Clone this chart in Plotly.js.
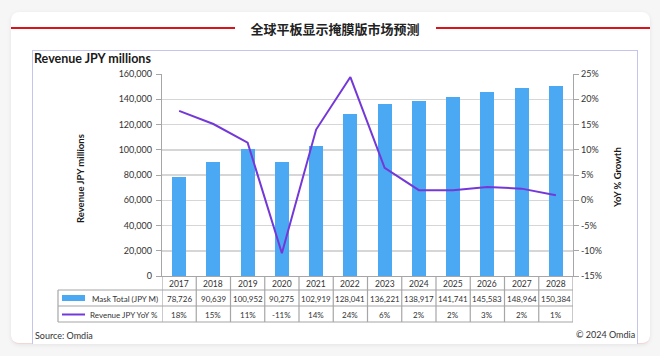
<!DOCTYPE html>
<html>
<head>
<meta charset="utf-8">
<script src="https://cdn.plot.ly/plotly-3.0.1.min.js"></script>
<style>
  html, body { margin:0; padding:0; width:660px; height:356px; overflow:hidden; background:#f6f6f6; font-family: Lato, "Noto Sans", sans-serif; }
  #card { position:absolute; left:11px; top:12px; width:639px; height:331px; background:#fff; border-radius:8px; box-shadow:0 1px 4px rgba(0,0,0,0.08); border-bottom:1px solid #f3d6d6; }
  .redline { position:absolute; top:27px; height:2px; background:#d9141b; }
  #title { position:absolute; left:202px; width:266px; top:20px; text-align:center; font-family:"Noto Sans CJK SC", sans-serif; font-weight:bold; font-size:13px; color:#222; line-height:18px; }
  #frame { position:absolute; left:32px; top:50px; width:604px; height:293px; border:1px solid #c4c4ec; border-bottom:none; background:#fff; }
  #chart { position:absolute; left:0; top:0; width:660px; height:356px; }
</style>
</head>
<body>
<div id="card"></div>
<div class="redline" style="left:11px; width:224px;"></div>
<div class="redline" style="left:436px; width:214px;"></div>
<div id="title">全球平板显示掩膜版市场预测</div>
<div id="frame"></div>
<div id="chart"></div>
<script>
// ---- data ----
var years = ['2017','2018','2019','2020','2021','2022','2023','2024','2025','2026','2027','2028'];
var maskTotal = [78726, 90639, 100952, 90275, 102919, 128041, 136221, 138917, 141741, 145583, 148964, 150384];
var yoyGrowth = [17.7, 15.1, 11.4, -10.5, 14.0, 24.4, 6.4, 2.0, 2.0, 2.6, 2.3, 1.0];
var yoyLabels = ['18%','15%','11%','-11%','14%','24%','6%','2%','2%','3%','2%','1%'];
var leftTicks = [0, 20000, 40000, 60000, 80000, 100000, 120000, 140000, 160000];
var rightTickVals = [-15, -10, -5, 0, 5, 10, 15, 20, 25];
var rightTickText = ['-15%','-10%','-5%','0%','5%','10%','15%','20%','25%'];
var seriesNames = ['Mask Total (JPY M)', 'Revenue JPY YoY %'];

// ---- layout helpers (pixel -> paper) ----
var W = 660, H = 356, L = 162, R = 87, T = 74, B = 80;
var pw = W - L - R, ph = H - T - B;
function px(x) { return (x - L) / pw; }
function py(y) { return (H - B - y) / ph; }

var idx = years.map(function(_, i) { return i; });
var FONT = 'Lato, "Open Sans", sans-serif';
var txt = '#333';
var gridCol = '#d6d6d6';
var tableCol = '#a6a6a6';

var traces = [
  { type:'bar', x: idx, y: maskTotal, name: seriesNames[0], marker:{color:'#4aa9f2'}, width:0.41, yaxis:'y', hoverinfo:'y' },
  { type:'scatter', mode:'lines', x: idx, y: yoyGrowth, name: seriesNames[1], line:{color:'#7538d8', width:2}, yaxis:'y2' }
];

var ann = [];
var shapes = [];
function note(text, x, y, opts) {
  var a = Object.assign({ text:text, x:x, y:y, xref:'paper', yref:'paper', showarrow:false,
    font:{family:FONT, size:8, color:txt}, xanchor:'center', yanchor:'middle' }, opts || {});
  ann.push(a);
}
// header, source, copyright
note('<b>Revenue JPY millions</b>', px(32), py(59), {xanchor:'left', font:{family:FONT, size:12.5, color:'#1a1a1a'}});
note('Source: Omdia', px(33), py(335), {xanchor:'left', font:{family:FONT, size:9, color:'#333'}});
note('© 2024 Omdia', px(637), py(334), {xanchor:'right', font:{family:FONT, size:9, color:'#333'}});
// axis titles
note('<b>Revenue JPY millions</b>', px(80), py(179), {textangle:-90, font:{family:FONT, size:9.5, color:'#1a1a1a'}});
note('<b>YoY % Growth</b>', px(617), py(178), {textangle:-90, font:{family:FONT, size:9.5, color:'#1a1a1a'}});

// table rows
years.forEach(function(yr, i) {
  note(yr, i, py(283.5), {xref:'x', font:{family:FONT, size:8.5, color:txt}});
  note(maskTotal[i].toLocaleString('en-US'), i, py(298.5), {xref:'x'});
  note(yoyLabels[i], i, py(314.5), {xref:'x'});
});
note(seriesNames[0], px(160), py(298.5), {xanchor:'right'});
note(seriesNames[1], px(160), py(314.5), {xanchor:'right'});

// legend keys
shapes.push({type:'rect', xref:'paper', yref:'paper', x0:px(62), x1:px(85), y0:py(301), y1:py(295), fillcolor:'#4aa9f2', line:{width:0}});
shapes.push({type:'line', xref:'paper', yref:'paper', x0:px(62), x1:px(85), y0:py(314.5), y1:py(314.5), line:{color:'#7538d8', width:2}});

// table grid
[290, 306, 322].forEach(function(yy) {
  shapes.push({type:'line', xref:'paper', yref:'paper', x0:px(58), x1:1, y0:py(yy), y1:py(yy), line:{color:tableCol, width:1.2}});
});
shapes.push({type:'line', xref:'paper', yref:'paper', x0:px(58), x1:px(58), y0:py(290), y1:py(322), line:{color:tableCol, width:1.2}});
for (var k = 0; k <= years.length; k++) {
  shapes.push({type:'line', xref:'x', yref:'paper', x0:k - 0.5, x1:k - 0.5, y0:py(276), y1:py(322), line:{color:tableCol, width:1.2}});
}

var layout = {
  width: W, height: H,
  margin: {l:L, r:R, t:T, b:B, pad:0},
  paper_bgcolor: 'rgba(0,0,0,0)', plot_bgcolor: 'rgba(0,0,0,0)',
  showlegend: false,
  bargap: 0,
  xaxis: { range:[-0.5, years.length - 0.5], showticklabels:false, ticks:'', showgrid:false, zeroline:false,
           showline:true, linecolor:tableCol, linewidth:1.2, fixedrange:true },
  yaxis: { range:[0, 160000], tickvals: leftTicks, tickformat:',d', ticks:'outside', ticklen:5, tickcolor:'#a6a6a6',
           showline:true, linecolor:'#a6a6a6', linewidth:1.2, showgrid:true, gridcolor:gridCol, gridwidth:1.5,
           zeroline:false, tickfont:{family:FONT, size:9, color:txt}, ticklabelstandoff:2 },
  yaxis2: { range:[-15, 25], overlaying:'y', side:'right', tickvals: rightTickVals, ticktext: rightTickText,
            ticks:'outside', ticklen:5, tickcolor:'#a6a6a6', showline:true, linecolor:'#a6a6a6', linewidth:1.2,
            showgrid:false, zeroline:false, tickfont:{family:FONT, size:9, color:txt} },
  annotations: ann,
  shapes: shapes
};

Plotly.newPlot('chart', traces, layout, {displayModeBar:false, staticPlot:true});
</script>
</body>
</html>
